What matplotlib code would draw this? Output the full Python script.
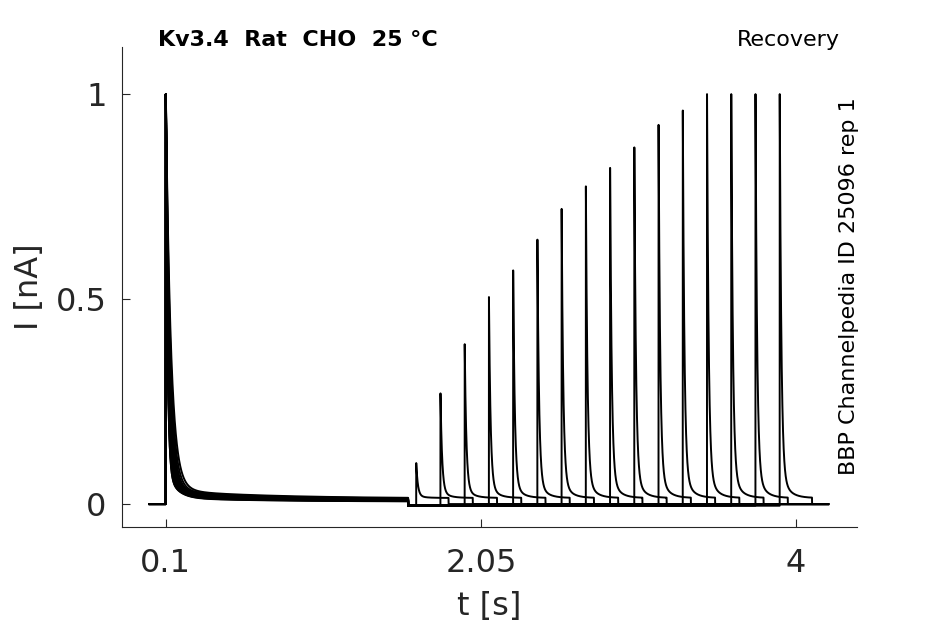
import numpy as np
import matplotlib
matplotlib.use("Agg")
import matplotlib.pyplot as plt

# recovery protocol: conditioning step at 0.1 s, test pulse after a growing gap
cond_start = 0.1
cond_end = 1.6
test_len = 0.2
sweep_end = 4.2

recovery_onsets = [1.65, 1.80, 1.95, 2.10, 2.25, 2.40, 2.55, 2.70,
                   2.85, 3.00, 3.15, 3.30, 3.45, 3.60, 3.75, 3.90]
recovery_peaks = [0.10, 0.27, 0.39, 0.505, 0.57, 0.645, 0.72, 0.775,
                  0.82, 0.87, 0.925, 0.96, 1.0, 1.0, 1.0, 1.0]

# first-pulse decay differs a little from sweep to sweep (thick band)
cond_tau = [0.030, 0.026, 0.023, 0.021, 0.019, 0.017, 0.016, 0.015,
            0.014, 0.013, 0.012, 0.012, 0.011, 0.011, 0.010, 0.010]
cond_plateau = [0.034, 0.031, 0.029, 0.027, 0.026, 0.025, 0.024, 0.023,
                0.022, 0.021, 0.020, 0.019, 0.018, 0.017, 0.016, 0.015]
gap_level = -0.004
test_plateau = 0.015

t = np.arange(0, sweep_end, 0.0004)


def sweep(i):
    y = np.zeros_like(t)
    # conditioning pulse
    m = (t >= cond_start) & (t < cond_end)
    d = t[m] - cond_start
    p = cond_plateau[i] * (0.4 + 0.6 * np.exp(-d / 0.6))
    y[m] = (1 - p[0]) * (0.93 * np.exp(-d / cond_tau[i]) + 0.07 * np.exp(-d / 0.06)) + p
    # gap
    t0 = recovery_onsets[i]
    m = (t >= cond_end) & (t < t0)
    y[m] = gap_level
    # test pulse
    m = (t >= t0) & (t < t0 + test_len)
    d = t[m] - t0
    a = recovery_peaks[i]
    y[m] = (a - test_plateau) * (0.93 * np.exp(-d / 0.010) + 0.07 * np.exp(-d / 0.045)) + test_plateau
    return y


fig = plt.figure(figsize=(9.45, 6.24), dpi=100)
ax = fig.add_axes([0.129, 0.1554, 0.778, 0.7693])

for i in range(len(recovery_onsets)):
    ax.plot(t, sweep(i), color="black", lw=1.4)

ax.set_xlim(-0.172, 4.379)
ax.set_ylim(-0.056, 1.115)
ax.set_xticks([0.1, 2.05, 4])
ax.set_xticklabels(["0.1", "2.05", "4"])
ax.set_yticks([0, 0.5, 1])
ax.set_yticklabels(["0", "0.5", "1"])

for s in ["top", "right"]:
    ax.spines[s].set_visible(False)
for s in ["left", "bottom"]:
    ax.spines[s].set_color("#262626")
    ax.spines[s].set_linewidth(0.8)

ax.tick_params(direction="in", length=5.5, width=0.8, color="#262626",
               labelsize=23, labelcolor="#262626")
ax.tick_params(axis="x", pad=15)
ax.tick_params(axis="y", pad=11)
ax.set_xlabel("t [s]", fontsize=23, color="#262626", labelpad=9)
ax.set_ylabel("I [nA]", fontsize=23, color="#262626", labelpad=8)

fig.text(158 / 945, 1 - 40 / 624, "Kv3.4  Rat  CHO  25 °C", fontsize=16,
         fontweight="bold", ha="left", va="center")
fig.text(840 / 945, 1 - 40 / 624, "Recovery", fontsize=16, ha="right", va="center")
fig.text(849 / 945, 1 - 286 / 624, "BBP Channelpedia ID 25096 rep 1", fontsize=16,
         rotation=90, ha="center", va="center")

fig.savefig("out.png", dpi=100)
